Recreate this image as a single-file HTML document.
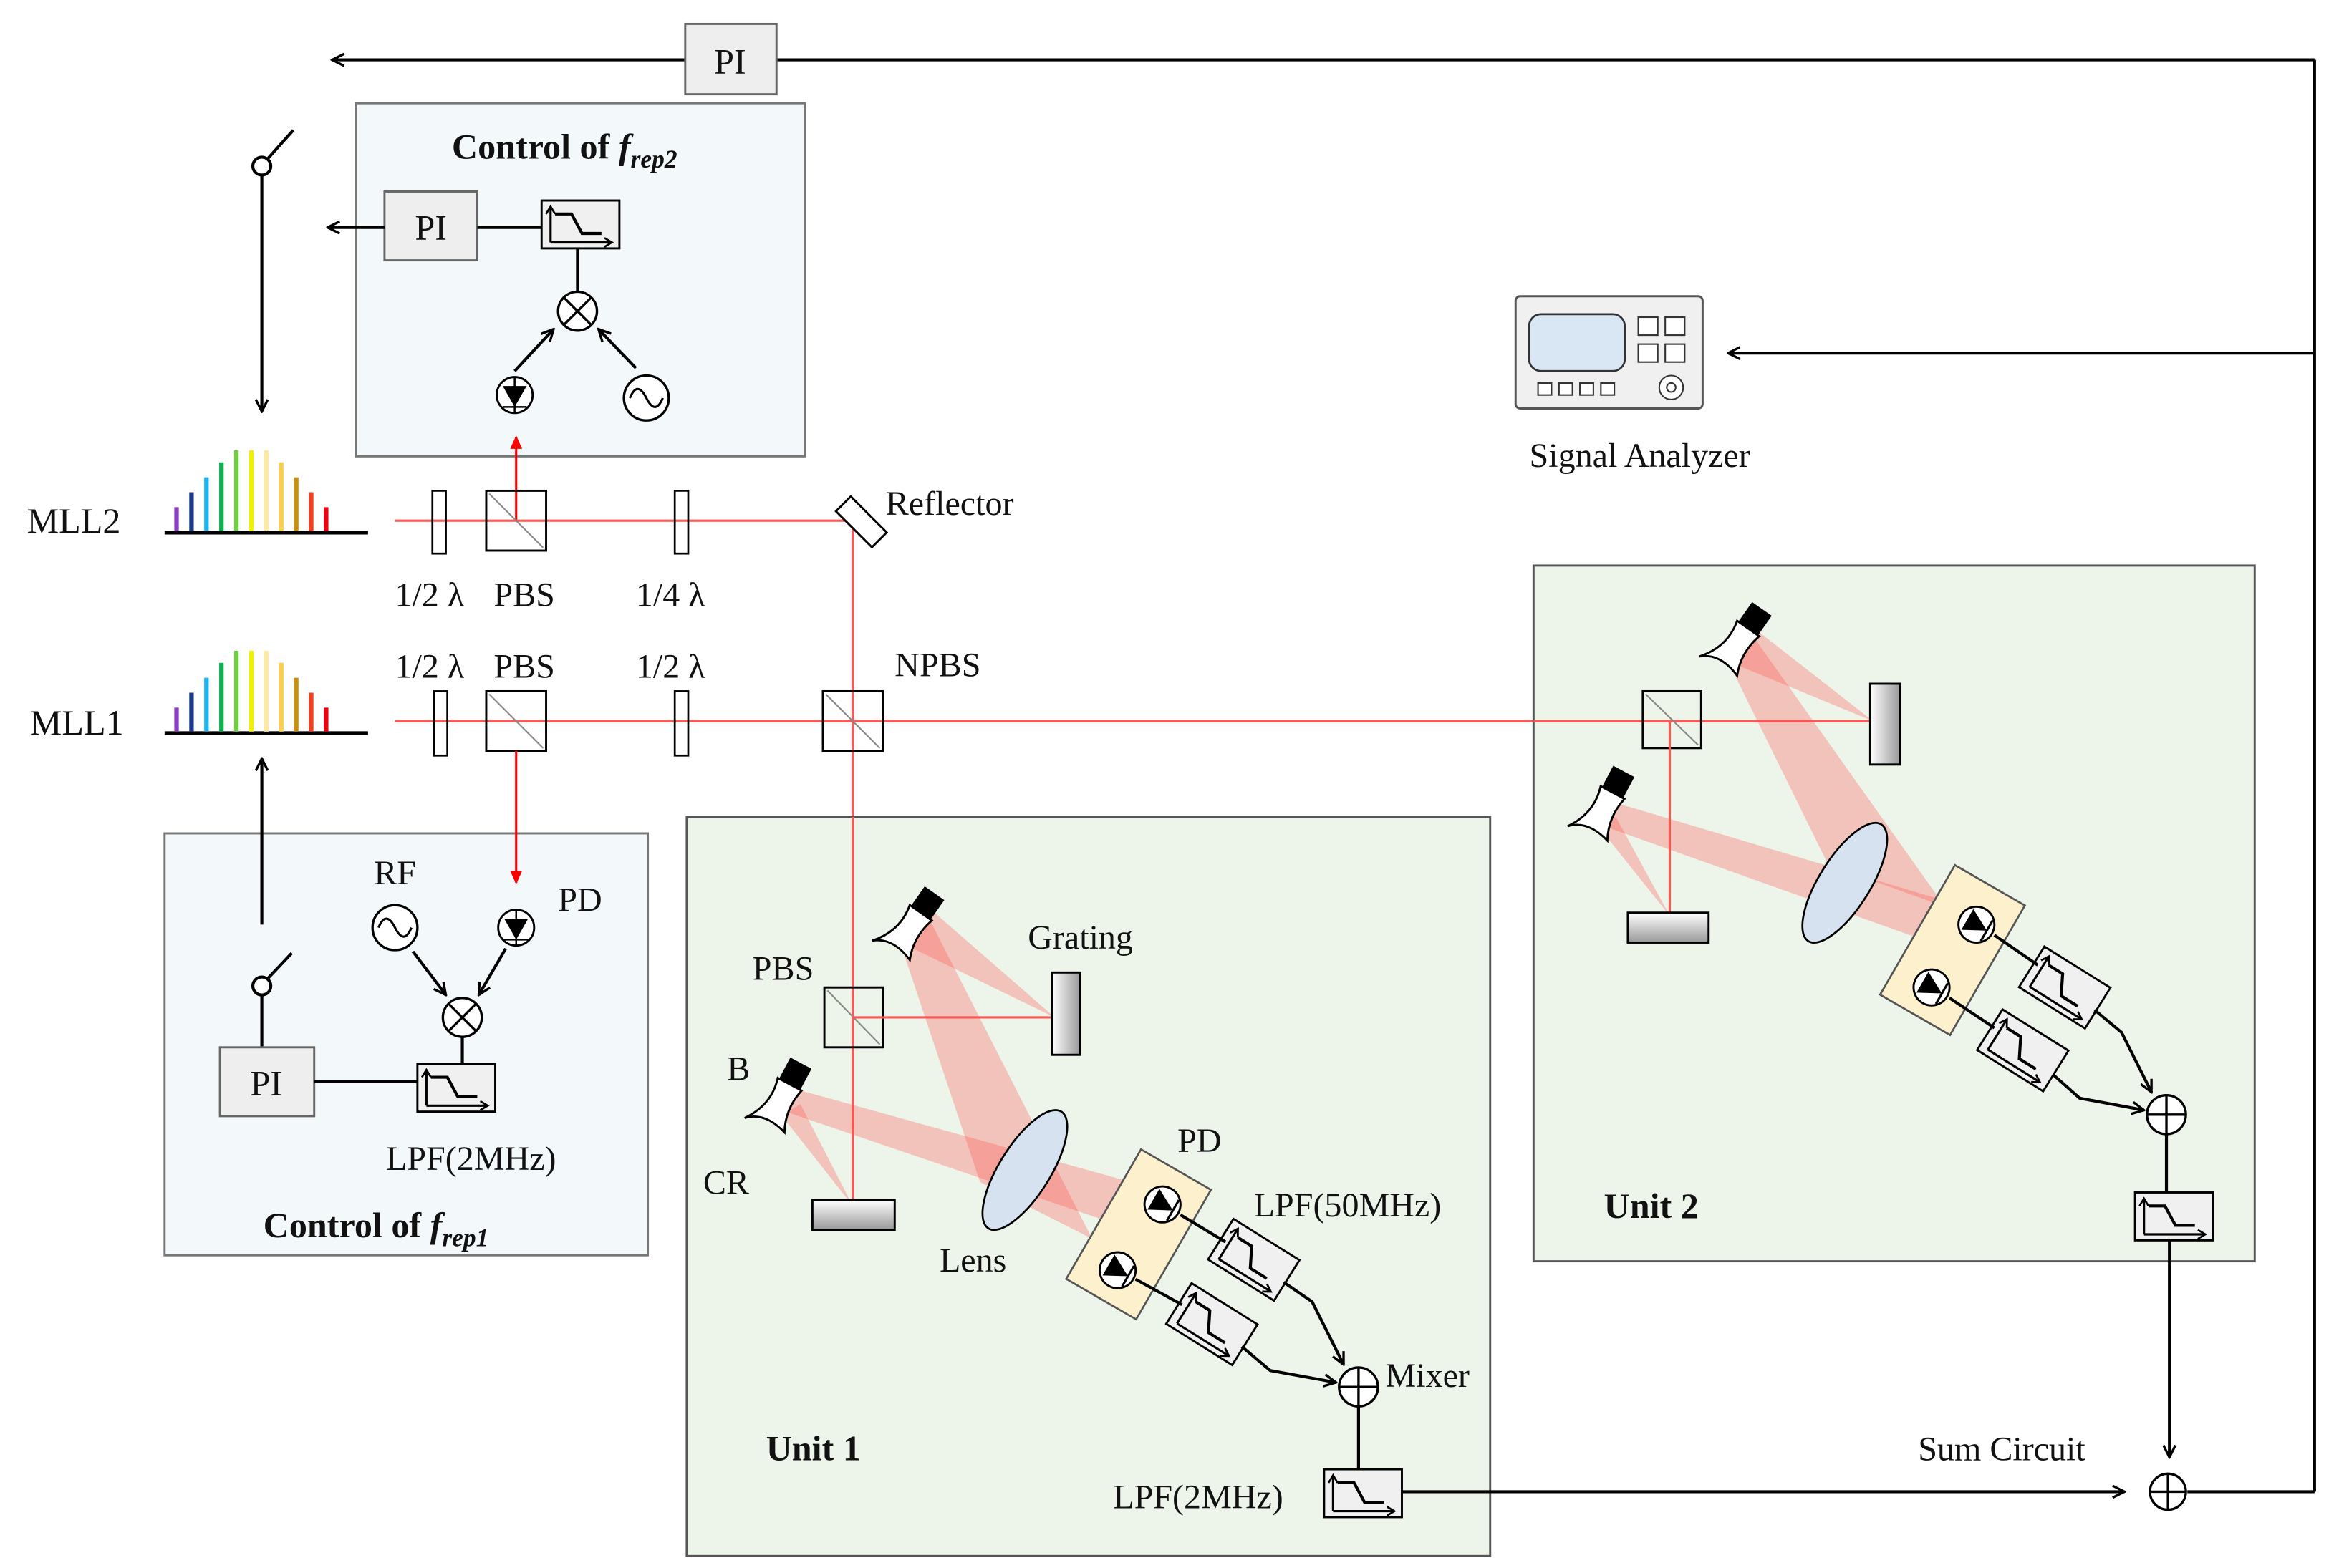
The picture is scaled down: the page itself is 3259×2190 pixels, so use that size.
<!DOCTYPE html>
<html><head><meta charset="utf-8"><style>
html,body{margin:0;padding:0;background:#fff}
svg{display:block}
text{font-family:"Liberation Serif",serif;fill:#111}
</style></head><body>
<svg width="3259" height="2190" viewBox="0 0 1560 1048" preserveAspectRatio="none" xmlns="http://www.w3.org/2000/svg">
<defs>
<marker id="ah" markerWidth="10" markerHeight="10" refX="9" refY="5" orient="auto" markerUnits="userSpaceOnUse"><path d="M1,1 L9,5 L1,9" fill="none" stroke="#000" stroke-width="1.6"/></marker>
<marker id="ahr" markerWidth="10" markerHeight="10" refX="8" refY="5" orient="auto" markerUnits="userSpaceOnUse"><path d="M0,1 L9,5 L0,9z" fill="#f00"/></marker>
<g id="flt"><rect x="0" y="0" width="52" height="32" fill="#f0f0f0" stroke="#000" stroke-width="1.4"/><path d="M6,28 L6,5 M6,28 L46,28" stroke="#000" stroke-width="1.5" fill="none"/><path d="M3,9 L6,4 L9,9 M42,25 L47,28 L42,31" fill="none" stroke="#000" stroke-width="1.3"/><path d="M9,9 L20,9 L27,22 L40,22" fill="none" stroke="#000" stroke-width="2"/></g>
<g id="pd"><circle r="12" fill="#fff" stroke="#000" stroke-width="1.4"/><path d="M-8,-6 L8,-6 L0,8z" fill="#000"/><path d="M-8,8 L8,8 M0,-12 L0,12" stroke="#000" stroke-width="1.2"/></g>
<g id="pd2"><circle r="12" fill="#fff" stroke="#000" stroke-width="1.4"/><path d="M-7,-8 L-7,8 L8,0z" fill="#000"/><path d="M8,-8 L8,8" stroke="#000" stroke-width="1.5"/></g>
<g id="cr"><rect x="-8" y="-22" width="16" height="16" fill="#000"/><path d="M-9,-6 L9,-6 Q5,10 12,24 Q-6,18 -16,28 Q-4,12 -9,-6z" fill="#fff" stroke="#000" stroke-width="1.4"/></g>
<linearGradient id="gm" x1="0" x2="1"><stop offset="0" stop-color="#fff"/><stop offset="1" stop-color="#999"/></linearGradient>
<linearGradient id="gv" x1="0" y1="0" x2="0" y2="1"><stop offset="0" stop-color="#fff"/><stop offset="1" stop-color="#999"/></linearGradient>
</defs>

<!-- top PI feedback -->
<line x1="1547" y1="40" x2="222" y2="40" stroke="#000" stroke-width="2" marker-end="url(#ah)"/>
<rect x="458" y="16" width="61" height="47" fill="#eee" stroke="#666" stroke-width="1.4"/>
<text x="488" y="49" font-size="24" text-anchor="middle">PI</text>
<line x1="1547" y1="40" x2="1547" y2="997" stroke="#000" stroke-width="2"/>
<line x1="1547" y1="997" x2="1462" y2="997" stroke="#000" stroke-width="2"/>
<line x1="1547" y1="236" x2="1155" y2="236" stroke="#000" stroke-width="2" marker-end="url(#ah)"/>

<!-- Control frep2 -->
<rect x="238" y="69" width="300" height="236" fill="#f3f8fb" stroke="#777" stroke-width="1.4"/>
<text x="302" y="106" font-size="24" font-weight="bold">Control of <tspan font-style="italic">f</tspan><tspan font-style="italic" font-size="17" dy="6">rep2</tspan></text>
<rect x="257" y="128" width="62" height="46" fill="#eee" stroke="#666" stroke-width="1.4"/>
<text x="288" y="160" font-size="24" text-anchor="middle">PI</text>
<line x1="257" y1="152" x2="219" y2="152" stroke="#000" stroke-width="2" marker-end="url(#ah)"/>
<line x1="319" y1="152" x2="362" y2="152" stroke="#000" stroke-width="2"/>
<use href="#flt" x="362" y="134"/>
<line x1="386" y1="166" x2="386" y2="195" stroke="#000" stroke-width="2"/>
<circle cx="386" cy="208" r="13" fill="#fff" stroke="#000" stroke-width="1.6"/>
<path d="M377,199 L395,217 M395,199 L377,217" stroke="#000" stroke-width="1.6"/>
<line x1="344" y1="248" x2="370" y2="220" stroke="#000" stroke-width="2" marker-end="url(#ah)"/>
<line x1="425" y1="246" x2="400" y2="220" stroke="#000" stroke-width="2" marker-end="url(#ah)"/>
<use href="#pd" x="344" y="264"/>
<circle cx="432" cy="266" r="15" fill="#fff" stroke="#000" stroke-width="1.6"/>
<path d="M421,266 Q426,254 432,266 Q438,278 443,266" fill="none" stroke="#000" stroke-width="1.5"/>
<line x1="345" y1="348" x2="345" y2="292" stroke="#f00" stroke-width="1.5" marker-end="url(#ahr)"/>

<!-- switch 2 -->
<circle cx="175" cy="111" r="6" fill="#fff" stroke="#000" stroke-width="2"/>
<line x1="179" y1="106" x2="196" y2="87" stroke="#000" stroke-width="2"/>
<line x1="175" y1="117" x2="175" y2="275" stroke="#000" stroke-width="2" marker-end="url(#ah)"/>

<!-- combs -->
<g id="comb">
<line x1="110" y1="356" x2="246" y2="356" stroke="#000" stroke-width="2.5"/>
<g stroke-width="3">
<line x1="118" y1="355" x2="118" y2="339" stroke="#8a3fc0"/>
<line x1="128" y1="355" x2="128" y2="329" stroke="#1c3a8c"/>
<line x1="138" y1="355" x2="138" y2="319" stroke="#1ab4f0"/>
<line x1="148" y1="355" x2="148" y2="309" stroke="#10b050"/>
<line x1="158" y1="355" x2="158" y2="301" stroke="#6ed040"/>
<line x1="168" y1="355" x2="168" y2="301" stroke="#f0f000"/>
<line x1="178" y1="355" x2="178" y2="301" stroke="#ffe8a0"/>
<line x1="188" y1="355" x2="188" y2="309" stroke="#f8d050"/>
<line x1="198" y1="355" x2="198" y2="319" stroke="#c8900c"/>
<line x1="208" y1="355" x2="208" y2="329" stroke="#f04020"/>
<line x1="218" y1="355" x2="218" y2="339" stroke="#f00010"/>
</g></g>
<use href="#comb" y="134"/>
<text x="18" y="356" font-size="24">MLL2</text>
<text x="20" y="491" font-size="24">MLL1</text>

<!-- beams MLL2 -->
<line x1="264" y1="348" x2="570" y2="348" stroke="#f55" stroke-width="1.5"/>
<line x1="570" y1="348" x2="570" y2="546" stroke="#f55" stroke-width="1.5"/>
<rect x="289" y="328" width="9" height="42" fill="none" stroke="#000" stroke-width="1.3"/>
<rect x="325" y="328" width="40" height="40" fill="none" stroke="#000" stroke-width="1.4"/>
<line x1="327" y1="330" x2="363" y2="366" stroke="#888" stroke-width="1"/>
<rect x="451" y="328" width="9" height="42" fill="none" stroke="#000" stroke-width="1.3"/>
<rect x="563" y="330" width="14" height="34" fill="#fff" stroke="#000" stroke-width="1.4" transform="rotate(-45 575 341)"/>
<text x="592" y="344" font-size="23">Reflector</text>
<text x="264" y="405" font-size="23">1/2 λ</text>
<text x="330" y="405" font-size="23">PBS</text>
<text x="425" y="405" font-size="23">1/4 λ</text>
<text x="264" y="453" font-size="23">1/2 λ</text>
<text x="330" y="453" font-size="23">PBS</text>
<text x="425" y="453" font-size="23">1/2 λ</text>
<text x="598" y="452" font-size="23">NPBS</text>

<!-- beams MLL1 -->
<line x1="264" y1="482" x2="1252" y2="482" stroke="#f55" stroke-width="1.5"/>
<rect x="290" y="462" width="9" height="43" fill="none" stroke="#000" stroke-width="1.3"/>
<rect x="325" y="462" width="40" height="40" fill="none" stroke="#000" stroke-width="1.4"/>
<line x1="327" y1="464" x2="363" y2="500" stroke="#888" stroke-width="1"/>
<rect x="451" y="462" width="9" height="43" fill="none" stroke="#000" stroke-width="1.3"/>
<rect x="550" y="462" width="40" height="40" fill="none" stroke="#000" stroke-width="1.4"/>
<line x1="552" y1="464" x2="588" y2="500" stroke="#888" stroke-width="1"/>

<!-- Control frep1 -->
<rect x="110" y="557" width="323" height="282" fill="#f3f8fb" stroke="#777" stroke-width="1.4"/>
<line x1="345" y1="502" x2="345" y2="590" stroke="#f00" stroke-width="1.5" marker-end="url(#ahr)"/>
<line x1="175" y1="618" x2="175" y2="507" stroke="#000" stroke-width="2" marker-end="url(#ah)"/>
<circle cx="175" cy="659" r="6" fill="#fff" stroke="#000" stroke-width="2"/>
<line x1="179" y1="654" x2="195" y2="637" stroke="#000" stroke-width="2"/>
<line x1="175" y1="665" x2="175" y2="700" stroke="#000" stroke-width="2"/>
<rect x="147" y="700" width="63" height="46" fill="#eee" stroke="#666" stroke-width="1.4"/>
<text x="178" y="732" font-size="24" text-anchor="middle">PI</text>
<line x1="210" y1="723" x2="279" y2="723" stroke="#000" stroke-width="2"/>
<use href="#flt" x="279" y="711"/>
<line x1="309" y1="693" x2="309" y2="711" stroke="#000" stroke-width="2"/>
<circle cx="309" cy="680" r="13" fill="#fff" stroke="#000" stroke-width="1.6"/>
<path d="M300,671 L318,689 M318,671 L300,689" stroke="#000" stroke-width="1.6"/>
<line x1="276" y1="636" x2="298" y2="665" stroke="#000" stroke-width="2" marker-end="url(#ah)"/>
<line x1="338" y1="634" x2="320" y2="665" stroke="#000" stroke-width="2" marker-end="url(#ah)"/>
<circle cx="264" cy="620" r="15" fill="#fff" stroke="#000" stroke-width="1.6"/>
<path d="M253,620 Q258,608 264,620 Q270,632 275,620" fill="none" stroke="#000" stroke-width="1.5"/>
<use href="#pd" x="345" y="620"/>
<text x="250" y="591" font-size="23">RF</text>
<text x="373" y="609" font-size="23">PD</text>
<text x="258" y="782" font-size="23">LPF(2MHz)</text>
<text x="176" y="827" font-size="24" font-weight="bold">Control of <tspan font-style="italic">f</tspan><tspan font-style="italic" font-size="17" dy="6">rep1</tspan></text>

<!-- Signal analyzer -->
<rect x="1013" y="198" width="125" height="75" rx="3" fill="#f0f0f0" stroke="#555" stroke-width="1.4"/>
<rect x="1022" y="210" width="64" height="38" rx="8" fill="#d9e6f4" stroke="#333" stroke-width="1.3"/>
<rect x="1095" y="212" width="13" height="12" fill="#fff" stroke="#333"/><rect x="1113" y="212" width="13" height="12" fill="#fff" stroke="#333"/>
<rect x="1095" y="230" width="13" height="12" fill="#fff" stroke="#333"/><rect x="1113" y="230" width="13" height="12" fill="#fff" stroke="#333"/>
<rect x="1028" y="256" width="9" height="8" fill="#fff" stroke="#333"/><rect x="1042" y="256" width="9" height="8" fill="#fff" stroke="#333"/><rect x="1056" y="256" width="9" height="8" fill="#fff" stroke="#333"/><rect x="1070" y="256" width="9" height="8" fill="#fff" stroke="#333"/>
<circle cx="1117" cy="259" r="8" fill="#fff" stroke="#333"/><circle cx="1117" cy="259" r="3" fill="none" stroke="#333"/>
<text x="1096" y="312" font-size="23" text-anchor="middle">Signal Analyzer</text>

<!-- Unit 1 -->
<rect x="459" y="546" width="537" height="494" fill="#edf5ea" stroke="#555" stroke-width="1.4"/>
<line x1="570" y1="546" x2="570" y2="812" stroke="#f55" stroke-width="1.5"/>
<g fill="#ff5050" fill-opacity="0.3">
<polygon points="598,628 620,606 705,680"/>
<polygon points="600,625 618,608 730,828 655,790"/>
<polygon points="522,742 532,728 792,800 757,822"/>
<polygon points="522,745 535,738 570,806"/>
</g>
<rect x="551" y="660" width="39" height="40" fill="none" stroke="#000" stroke-width="1.4"/>
<line x1="553" y1="662" x2="588" y2="698" stroke="#888" stroke-width="1"/>
<line x1="570" y1="680" x2="703" y2="680" stroke="#f55" stroke-width="1.5"/>
<rect x="703" y="650" width="19" height="55" fill="url(#gm)" stroke="#000" stroke-width="1.4"/>
<rect x="543" y="802" width="55" height="20" fill="url(#gv)" stroke="#000" stroke-width="1.4"/>
<use href="#cr" transform="translate(612,615) rotate(35)"/>
<use href="#cr" transform="translate(525,730) rotate(28)"/>
<ellipse cx="685" cy="782" rx="17" ry="46" transform="rotate(32 685 782)" fill="#d6e2f0" stroke="#000" stroke-width="1.3"/>
<g transform="translate(761,825) rotate(30)"><rect x="-27" y="-50" width="54" height="100" fill="#fdf0cd" stroke="#555" stroke-width="1.3"/></g>
<use href="#pd2" transform="translate(777,805) rotate(30)"/>
<use href="#pd2" transform="translate(747,849) rotate(30)"/>
<use href="#flt" transform="translate(838,842) rotate(32) translate(-26,-16)"/>
<use href="#flt" transform="translate(810,885) rotate(32) translate(-26,-16)"/>
<line x1="789" y1="812" x2="819" y2="830" stroke="#000" stroke-width="2"/>
<line x1="759" y1="855" x2="790" y2="872" stroke="#000" stroke-width="2"/>
<polyline points="858,857 877,870 898,912" fill="none" stroke="#000" stroke-width="2" marker-end="url(#ah)"/>
<polyline points="830,900 849,916 893,924" fill="none" stroke="#000" stroke-width="2" marker-end="url(#ah)"/>
<circle cx="908" cy="927" r="13" fill="#fff" stroke="#000" stroke-width="1.6"/>
<path d="M895,927 L921,927 M908,914 L908,940" stroke="#000" stroke-width="1.6"/>
<line x1="908" y1="940" x2="908" y2="982" stroke="#000" stroke-width="2"/>
<use href="#flt" x="885" y="982"/>
<line x1="937" y1="997" x2="1420" y2="997" stroke="#000" stroke-width="2" marker-end="url(#ah)"/>
<text x="687" y="634" font-size="23">Grating</text>
<text x="503" y="655" font-size="23">PBS</text>
<text x="486" y="722" font-size="23">B</text>
<text x="470" y="798" font-size="23">CR</text>
<text x="628" y="850" font-size="23">Lens</text>
<text x="787" y="770" font-size="23">PD</text>
<text x="838" y="813" font-size="23">LPF(50MHz)</text>
<text x="926" y="927" font-size="23">Mixer</text>
<text x="744" y="1008" font-size="23">LPF(2MHz)</text>
<text x="512" y="976" font-size="24" font-weight="bold">Unit 1</text>

<!-- Unit 2 -->
<rect x="1025" y="378" width="482" height="465" fill="#edf5ea" stroke="#555" stroke-width="1.4"/>
<line x1="1025" y1="482" x2="1252" y2="482" stroke="#f55" stroke-width="1.5"/>
<g fill="#ff5050" fill-opacity="0.3">
<polygon points="1150,440 1170,418 1252,482"/>
<polygon points="1152,436 1168,420 1300,606 1222,578"/>
<polygon points="1066,550 1078,536 1300,602 1285,628"/>
<polygon points="1068,552 1080,546 1116,612"/>
</g>
<rect x="1098" y="462" width="39" height="38" fill="none" stroke="#000" stroke-width="1.4"/>
<line x1="1100" y1="464" x2="1135" y2="498" stroke="#888" stroke-width="1"/>
<line x1="1116" y1="482" x2="1116" y2="610" stroke="#f55" stroke-width="1.5"/>
<rect x="1250" y="457" width="20" height="54" fill="url(#gm)" stroke="#000" stroke-width="1.4"/>
<rect x="1088" y="610" width="54" height="20" fill="url(#gv)" stroke="#000" stroke-width="1.4"/>
<use href="#cr" transform="translate(1165,425) rotate(35)"/>
<use href="#cr" transform="translate(1075,535) rotate(28)"/>
<ellipse cx="1233" cy="590" rx="17" ry="46" transform="rotate(32 1233 590)" fill="#d6e2f0" stroke="#000" stroke-width="1.3"/>
<g transform="translate(1305,635) rotate(30)"><rect x="-27" y="-50" width="54" height="100" fill="#fdf0cd" stroke="#555" stroke-width="1.3"/></g>
<use href="#pd2" transform="translate(1321,618) rotate(30)"/>
<use href="#pd2" transform="translate(1291,660) rotate(30)"/>
<use href="#flt" transform="translate(1380,660) rotate(32) translate(-26,-16)"/>
<use href="#flt" transform="translate(1352,702) rotate(32) translate(-26,-16)"/>
<line x1="1333" y1="625" x2="1362" y2="645" stroke="#000" stroke-width="2"/>
<line x1="1303" y1="667" x2="1333" y2="687" stroke="#000" stroke-width="2"/>
<polyline points="1400,675 1418,690 1438,730" fill="none" stroke="#000" stroke-width="2" marker-end="url(#ah)"/>
<polyline points="1372,718 1390,734 1433,742" fill="none" stroke="#000" stroke-width="2" marker-end="url(#ah)"/>
<circle cx="1448" cy="745" r="13" fill="#fff" stroke="#000" stroke-width="1.6"/>
<path d="M1435,745 L1461,745 M1448,732 L1448,758" stroke="#000" stroke-width="1.6"/>
<line x1="1448" y1="758" x2="1448" y2="797" stroke="#000" stroke-width="2"/>
<use href="#flt" x="1427" y="797"/>
<text x="1072" y="814" font-size="24" font-weight="bold">Unit 2</text>

<!-- sum circuit -->
<line x1="1450" y1="829" x2="1450" y2="974" stroke="#000" stroke-width="2" marker-end="url(#ah)"/>
<circle cx="1449" cy="997" r="12" fill="#fff" stroke="#000" stroke-width="1.6"/>
<path d="M1437,997 L1461,997 M1449,985 L1449,1009" stroke="#000" stroke-width="1.6"/>
<text x="1282" y="976" font-size="23">Sum Circuit</text>
</svg>
</body></html>
